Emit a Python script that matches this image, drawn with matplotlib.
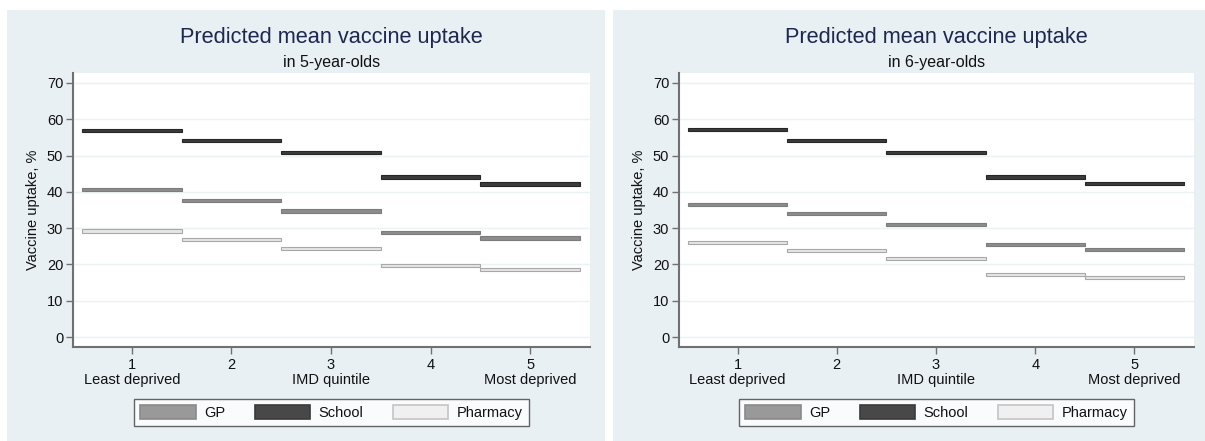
import matplotlib
matplotlib.use("Agg")
import matplotlib.pyplot as plt
from matplotlib.patches import Rectangle, Patch
import numpy as np

plt.rcParams['font.family'] = ['Liberation Sans', 'DejaVu Sans']

quintiles = [1, 2, 3, 4, 5]
tick_labels = ["1\nLeast deprived", "2", "3\nIMD quintile", "4", "5\nMost deprived"]
series_names = ["GP", "School", "Pharmacy"]

# 5-year-olds
gp_5 = [40.6, 37.7, 34.7, 28.7, 27.3]
school_5 = [57.0, 54.2, 50.8, 44.1, 42.2]
pharmacy_5 = [29.2, 26.9, 24.3, 19.7, 18.6]

# 6-year-olds
gp_6 = [36.6, 34.0, 31.1, 25.5, 24.2]
school_6 = [57.1, 54.2, 50.9, 44.1, 42.3]
pharmacy_6 = [26.1, 23.9, 21.7, 17.2, 16.3]

titles = ["Predicted mean vaccine uptake", "Predicted mean vaccine uptake"]
subtitles = ["in 5-year-olds", "in 6-year-olds"]

W, H = 1205, 441
fig = plt.figure(figsize=(W / 100, H / 100), dpi=100)
fig.patch.set_facecolor("white")

bg = "#e8f0f3"
fig.patches.append(Rectangle((7 / W, 0), (605 - 7) / W, (H - 10) / H,
                             transform=fig.transFigure, facecolor=bg, edgecolor="none", zorder=-10))
fig.patches.append(Rectangle((613 / W, 0), (W - 613) / W, (H - 10) / H,
                             transform=fig.transFigure, facecolor=bg, edgecolor="none", zorder=-10))

fill = {"GP": "#8c8c8c", "School": "#3c3c3c", "Pharmacy": "#e6e6e6"}
edge = {"GP": "#7c7c7c", "School": "#262626", "Pharmacy": "#a8a8a8"}
leg_fill = {"GP": "#999999", "School": "#484848", "Pharmacy": "#f0f0f0"}
leg_edge = {"GP": "#8a8a8a", "School": "#3a3a3a", "Pharmacy": "#c4c4c4"}

axes_px = [(73, 590), (679, 1194)]
top_px, bot_px = 73, 347
data = [(gp_5, school_5, pharmacy_5), (gp_6, school_6, pharmacy_6)]

axis_col = "#707070"
for i, (lx, rx) in enumerate(axes_px):
    ax = fig.add_axes([lx / W, 1 - bot_px / H, (rx - lx) / W, (bot_px - top_px) / H])
    ax.set_facecolor("white")
    for name, vals in zip(series_names, data[i]):
        vals = np.asarray(vals)
        ax.bar(quintiles, 0.9, bottom=vals - 0.45, width=1.0, color=fill[name],
               edgecolor=edge[name], linewidth=0.8, zorder=3)
    ax.set_xlim(0.41, 5.6)
    ax.set_ylim(-2.75, 72.75)
    ax.set_yticks(range(0, 71, 10))
    ax.set_xticks(quintiles)
    ax.set_xticklabels(tick_labels, fontsize=10.5, color="#111111", linespacing=1.05)
    ax.tick_params(axis="y", labelsize=10.5, labelcolor="#111111", length=5, width=1, color=axis_col, pad=2)
    ax.tick_params(axis="x", length=5, width=1, color=axis_col, pad=3)
    ax.grid(axis="y", color="#eaf2f4", linewidth=1.0, zorder=0)
    ax.set_axisbelow(True)
    for s in ["top", "right"]:
        ax.spines[s].set_visible(False)
    for s in ["left", "bottom"]:
        ax.spines[s].set_color(axis_col)
        ax.spines[s].set_linewidth(1.5)
    ax.set_ylabel("Vaccine uptake, %", fontsize=10.5, color="#111111")
    ax.yaxis.set_label_coords(-33 / (rx - lx), 0.5)
    cx = (lx + rx) / 2 / W
    fig.text(cx, 1 - 43.5 / H, titles[i], ha="center", va="baseline", fontsize=15.7, color="#1c2850")
    fig.text(cx, 1 - 66.5 / H, subtitles[i], ha="center", va="baseline", fontsize=11.5, color="#111111")
    handles = [Patch(facecolor=leg_fill[n], edgecolor=leg_edge[n], linewidth=1.2, label=n)
               for n in series_names]
    leg = ax.legend(handles=handles, loc="upper center", bbox_to_anchor=(0.5, -45 / (bot_px - top_px)),
                    ncol=3, frameon=True, fontsize=10.5, handlelength=3.8, handleheight=1.1,
                    handletextpad=0.6, columnspacing=2.0, borderpad=0.4, fancybox=False)
    leg.get_frame().set_edgecolor("#404040")
    leg.get_frame().set_linewidth(1.0)
    for t in leg.get_texts():
        t.set_color("#111111")

fig.savefig("out.png", dpi=100)
